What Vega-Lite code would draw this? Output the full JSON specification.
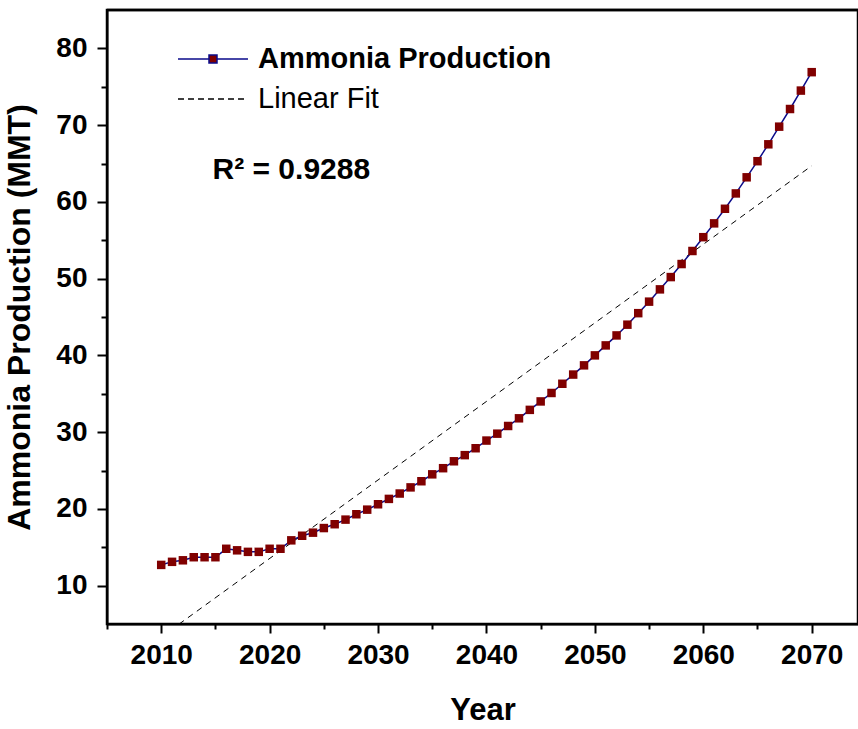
{
  "$schema": "https://vega.github.io/schema/vega-lite/v6.json",
  "width": 751,
  "height": 614,
  "autosize": {"type": "none"},
  "padding": {"left": 107, "top": 10, "right": 0, "bottom": 105},
  "background": "white",
  "config": {
    "view": {"stroke": "#000000", "strokeWidth": 2.5},
    "font": "Liberation Sans",
    "axis": {"domainColor": "black", "domainWidth": 2, "tickColor": "black", "tickWidth": 2, "labelColor": "black", "titleColor": "black", "labelFont": "Liberation Sans", "titleFont": "Liberation Sans", "labelFontWeight": "bold", "titleFontWeight": "bold", "grid": false}
  },
  "datasets": {
    "ammonia": [
      {"year": 2010, "value": 12.7}, {"year": 2011, "value": 13.1}, {"year": 2012, "value": 13.3}, {"year": 2013, "value": 13.7}, {"year": 2014, "value": 13.7},
      {"year": 2015, "value": 13.7}, {"year": 2016, "value": 14.8}, {"year": 2017, "value": 14.6}, {"year": 2018, "value": 14.4}, {"year": 2019, "value": 14.4},
      {"year": 2020, "value": 14.8}, {"year": 2021, "value": 14.8}, {"year": 2022, "value": 15.9}, {"year": 2023, "value": 16.5}, {"year": 2024, "value": 16.9},
      {"year": 2025, "value": 17.5}, {"year": 2026, "value": 18.0}, {"year": 2027, "value": 18.6}, {"year": 2028, "value": 19.3}, {"year": 2029, "value": 19.9},
      {"year": 2030, "value": 20.6}, {"year": 2031, "value": 21.3}, {"year": 2032, "value": 22.0}, {"year": 2033, "value": 22.8}, {"year": 2034, "value": 23.6},
      {"year": 2035, "value": 24.5}, {"year": 2036, "value": 25.3}, {"year": 2037, "value": 26.2}, {"year": 2038, "value": 27.0}, {"year": 2039, "value": 27.9},
      {"year": 2040, "value": 28.9}, {"year": 2041, "value": 29.8}, {"year": 2042, "value": 30.8}, {"year": 2043, "value": 31.8}, {"year": 2044, "value": 32.9},
      {"year": 2045, "value": 34.0}, {"year": 2046, "value": 35.1}, {"year": 2047, "value": 36.3}, {"year": 2048, "value": 37.5}, {"year": 2049, "value": 38.7},
      {"year": 2050, "value": 40.0}, {"year": 2051, "value": 41.3}, {"year": 2052, "value": 42.6}, {"year": 2053, "value": 44.0}, {"year": 2054, "value": 45.5},
      {"year": 2055, "value": 47.0}, {"year": 2056, "value": 48.6}, {"year": 2057, "value": 50.2}, {"year": 2058, "value": 51.9}, {"year": 2059, "value": 53.6},
      {"year": 2060, "value": 55.4}, {"year": 2061, "value": 57.2}, {"year": 2062, "value": 59.1}, {"year": 2063, "value": 61.1}, {"year": 2064, "value": 63.2},
      {"year": 2065, "value": 65.3}, {"year": 2066, "value": 67.5}, {"year": 2067, "value": 69.8}, {"year": 2068, "value": 72.1}, {"year": 2069, "value": 74.5},
      {"year": 2070, "value": 76.9}
    ],
    "fit": [
      {"year": 2010, "value": 3.3, "series": "Linear Fit"},
      {"year": 2070, "value": 64.7, "series": "Linear Fit"}
    ],
    "frame": [
      {"x0": 2005, "x1": 2074.27, "top": 85}
    ]
  },
  "layer": [
    {
      "data": {"name": "fit"},
      "mark": {"type": "line", "clip": true, "strokeWidth": 1, "strokeDash": [6, 5]},
      "encoding": {
        "x": {"field": "year", "type": "quantitative", "scale": {"domain": [2005, 2074.27], "nice": false, "zero": false},
          "axis": {"orient": "bottom", "values": [2005, 2010, 2015, 2020, 2025, 2030, 2035, 2040, 2045, 2050, 2055, 2060, 2065, 2070],
            "labelExpr": "datum.value % 10 === 0 ? datum.label : ''", "format": "d",
            "tickSize": {"condition": {"test": "datum.value % 10 === 0", "value": 9}, "value": 5},
            "labelPadding": 8, "labelFontSize": 28, "title": "Year", "titleFontSize": 31, "titlePadding": 26}},
        "y": {"field": "value", "type": "quantitative", "scale": {"domain": [5, 85], "nice": false, "zero": false},
          "axis": {"orient": "left", "values": [10, 15, 20, 25, 30, 35, 40, 45, 50, 55, 60, 65, 70, 75, 80],
            "labelExpr": "datum.value % 10 === 0 ? datum.label : ''",
            "tickSize": {"condition": {"test": "datum.value % 10 === 0", "value": 10}, "value": 6},
            "labelPadding": 10, "labelFontSize": 28, "title": "Ammonia Production (MMT)", "titleFontSize": 32, "titlePadding": 19}},
        "color": {"field": "series", "type": "nominal",
          "scale": {"domain": ["Ammonia Production", "Linear Fit"], "range": ["#0a0a8a", "#000000"]},
          "legend": {
            "orient": "none", "legendX": 81, "legendY": 24, "title": null, "padding": 0,
            "symbolType": "stroke", "symbolSize": 2352, "symbolStrokeWidth": 1.5,
            "labelFontSize": 29, "labelFont": "Liberation Sans", "labelColor": "black", "labelOffset": 20, "rowPadding": 0,
            "labelLimit": 500,
            "encode": {
              "symbols": {"update": {
                "shape": {"signal": "datum.label === 'Linear Fit' ? 'M-1.443,0H1.443' : 'M-1.443,0H-0.165M0.165,0H1.443M-0.165,-0.165H0.165V0.165H-0.165Z'"},
                "fill": {"signal": "datum.label === 'Linear Fit' ? 'transparent' : '#800000'"},
                "strokeDash": {"signal": "datum.label === 'Linear Fit' ? [6, 4] : [1, 0]"}
              }},
              "labels": {"update": {"fontWeight": {"signal": "datum.label === 'Linear Fit' ? 'normal' : 'bold'"}}}
            }
          }}
      }
    },
    {
      "data": {"name": "ammonia"},
      "transform": [{"calculate": "'Ammonia Production'", "as": "series"}],
      "mark": {"type": "line", "strokeWidth": 1.5},
      "encoding": {
        "x": {"field": "year", "type": "quantitative"},
        "y": {"field": "value", "type": "quantitative"},
        "color": {"field": "series", "type": "nominal"}
      }
    },
    {
      "data": {"name": "ammonia"},
      "mark": {"type": "square", "size": 72, "filled": true, "color": "#800000", "opacity": 1},
      "encoding": {
        "x": {"field": "year", "type": "quantitative"},
        "y": {"field": "value", "type": "quantitative"}
      }
    },
    {
      "data": {"values": [{"label": "R² = 0.9288"}]},
      "mark": {"type": "text", "font": "Liberation Sans", "fontWeight": "bold", "fontSize": 30, "align": "center", "baseline": "middle", "color": "black"},
      "encoding": {
        "x": {"datum": 2022},
        "y": {"datum": 64.2},
        "text": {"field": "label"}
      }
    },
    {
      "data": {"name": "frame"},
      "mark": {"type": "rule", "strokeWidth": 2.5, "color": "#000000", "opacity": 1},
      "encoding": {
        "x": {"field": "x0", "type": "quantitative"},
        "x2": {"field": "x1"},
        "y": {"field": "top", "type": "quantitative"}
      }
    }
  ]
}
